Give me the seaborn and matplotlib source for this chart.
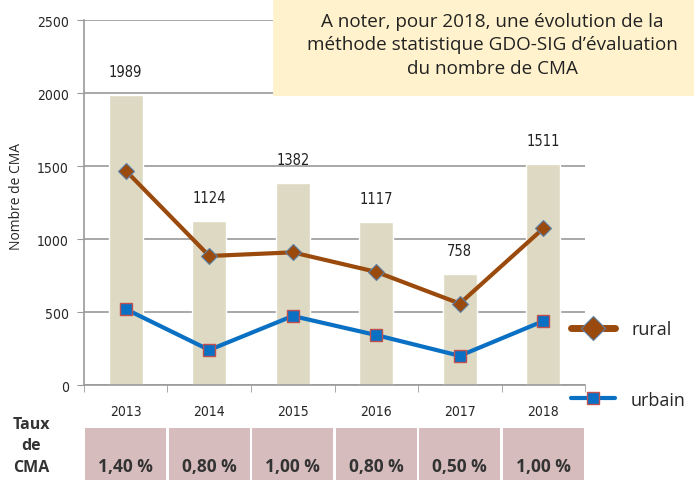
import matplotlib
matplotlib.use("Agg")
import matplotlib.pyplot as plt
import matplotlib.transforms as mtransforms
from matplotlib.lines import Line2D
from matplotlib.patches import Rectangle
import seaborn as sns

years = ["2013", "2014", "2015", "2016", "2017", "2018"]
total = [1989, 1124, 1382, 1117, 758, 1511]
rural = [1469, 884, 909, 775, 558, 1073]
urbain = [520, 240, 473, 342, 200, 438]
taux = ["1,40 %", "0,80 %", "1,00 %", "0,80 %", "0,50 %", "1,00 %"]

sns.set_style("white")
plt.rcParams["font.family"] = ["Open Sans", "DejaVu Sans"]
narrow = dict(family="DejaVu Sans", stretch="condensed")

fig = plt.figure(figsize=(6.94, 4.81), dpi=100)
ax = fig.add_axes([0.121, 0.1975, 0.722, 0.7585])

sns.barplot(x=years, y=total, color="#DDD9C3", width=0.41, saturation=1, ax=ax, zorder=2)
sns.pointplot(x=years, y=rural, color="#9A4A0C", markers="D", markersize=8, linewidth=3,
              markeredgecolor="#5B7FA8", markeredgewidth=0.8, errorbar=None, ax=ax, zorder=4)
sns.pointplot(x=years, y=urbain, color="#0A70C4", markers="s", markersize=9, linewidth=3,
              markeredgecolor="#C0504D", markeredgewidth=1, errorbar=None, ax=ax, zorder=4)

for i, v in enumerate(total):
    ax.text(i, v + 110, str(v), ha="center", va="bottom", fontsize=10.5, color="#222222", **narrow)

ax.set_ylim(0, 2500)
ax.set_xlim(-0.5, 5.5)
ax.set_yticks(range(0, 2501, 500))
ax.yaxis.grid(True, color="#9a9a9a", linewidth=1.2, zorder=0)
ax.set_axisbelow(True)
for s in ["top", "right"]:
    ax.spines[s].set_visible(False)
for s in ["left", "bottom"]:
    ax.spines[s].set_color("#9a9a9a")
    ax.spines[s].set_linewidth(1.2)
ax.set_xticks([i - 0.5 for i in range(len(years) + 1)], minor=True)
ax.tick_params(axis="x", which="minor", length=5, color="#9a9a9a", direction="out", bottom=True)
ax.tick_params(axis="x", which="major", length=0, pad=14)
ax.tick_params(axis="y", length=5, color="#9a9a9a", direction="out", left=True, pad=6)
for lab in ax.get_xticklabels() + ax.get_yticklabels():
    lab.set_family("DejaVu Sans")
    lab.set_stretch("condensed")
    lab.set_fontsize(10)
ax.set_xlabel("")
ax.set_ylabel("Nombre de CMA", fontsize=10)
ax.yaxis.set_label_coords(-0.12, 0.52)

# note box
fig.patches.append(Rectangle((0.393, 0.798), 0.61, 0.21, transform=fig.transFigure,
                             facecolor="#FFF2CC", edgecolor="none", zorder=5))
fig.text(0.71, 0.906, "A noter, pour 2018, une évolution de la\nméthode statistique GDO-SIG d’évaluation\ndu nombre de CMA",
         ha="center", va="center", fontsize=13.6, linespacing=1.38, color="#222222", zorder=6)

# legend
handles = [Line2D([], [], color="#9A4A0C", linewidth=5, marker="D", markersize=12,
                  markeredgecolor="#5B7FA8", markeredgewidth=0.8),
           Line2D([], [], color="#0A70C4", linewidth=3, marker="s", markersize=9,
                  markeredgecolor="#C0504D", markeredgewidth=1)]
fig.legend(handles, ["rural", "urbain"], loc="center left", bbox_to_anchor=(0.8, 0.24),
           frameon=False, fontsize=13, labelspacing=2.9, handlelength=2.4, handletextpad=0.9)

# taux de CMA table
trans = mtransforms.blended_transform_factory(ax.transData, fig.transFigure)
for i, t in enumerate(taux):
    fig.patches.append(Rectangle((i - 0.485, 0.0), 0.97, 0.108, transform=trans,
                                 facecolor="#D6BCBC", edgecolor="none", clip_on=False))
    fig.text(i, 0.03, t, transform=trans, ha="center", va="center", fontsize=12.5,
             fontweight="bold", color="#333333")
fig.text(0.045, 0.072, "Taux\nde\nCMA", ha="center", va="center", fontsize=11.5,
         fontweight="bold", linespacing=1.45, color="#333333")

fig.savefig("out.png", dpi=100)
